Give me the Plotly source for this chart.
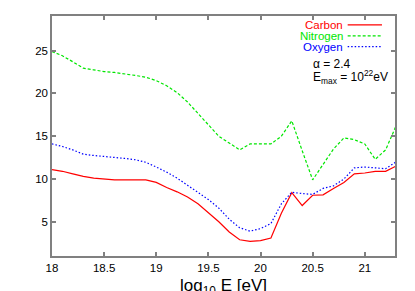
import plotly.graph_objects as go

log_e = [18.0, 18.1, 18.2, 18.3, 18.4, 18.5, 18.6, 18.7, 18.8, 18.9,
         19.0, 19.1, 19.2, 19.3, 19.4, 19.5, 19.6, 19.7, 19.8, 19.9,
         20.0, 20.1, 20.2, 20.3, 20.4, 20.5, 20.6, 20.7, 20.8, 20.9,
         21.0, 21.1, 21.2, 21.3]

carbon = [11.1, 10.9, 10.6, 10.3, 10.1, 10.0, 9.9, 9.9, 9.9, 9.9,
          9.6, 9.0, 8.5, 7.9, 7.1, 6.1, 5.0, 3.8, 2.9, 2.7,
          2.8, 3.1, 6.0, 8.4, 6.9, 8.1, 8.15, 8.9, 9.6, 10.6,
          10.7, 10.9, 10.9, 11.5]

nitrogen = [24.9, 24.4, 23.7, 22.95, 22.75, 22.55, 22.45, 22.3, 22.1, 21.9,
            21.5, 20.9, 20.1, 19.0, 17.7, 16.3, 15.0, 14.2, 13.4, 14.1,
            14.1, 14.1, 15.0, 16.8, 13.3, 9.9, 11.7, 13.5, 14.8, 14.6,
            14.1, 12.3, 13.4, 16.2]

oxygen = [14.1, 13.8, 13.4, 12.9, 12.75, 12.65, 12.55, 12.4, 12.25, 11.95,
          11.4, 10.8, 10.1, 9.3, 8.5, 7.6, 6.6, 5.3, 4.3, 3.9,
          4.2, 4.8, 7.1, 8.45, 8.3, 8.2, 8.9, 9.2, 10.0, 11.3,
          11.4, 11.3, 11.2, 12.0]

series_names = ["Carbon", "Nitrogen", "Oxygen"]
series_colors = ["#ff0000", "#00e600", "#0000ff"]
series_dash = ["solid", "3px,2px", "1.5px,2px"]
x_ticks = [18, 18.5, 19, 19.5, 20, 20.5, 21]
x_tick_labels = ["18", "18.5", "19", "19.5", "20", "20.5", "21"]
y_ticks = [5, 10, 15, 20, 25]

FONT = "Liberation Sans, Arial, sans-serif"

fig = go.Figure()
for name, ys, col, dash in zip(series_names, [carbon, nitrogen, oxygen], series_colors, series_dash):
    fig.add_trace(go.Scatter(x=log_e, y=ys, mode="lines", name=name,
                             line=dict(color=col, width=1.2, dash=dash),
                             showlegend=False))

axis_common = dict(showgrid=False, zeroline=False, showline=True, linecolor="#808080",
                   linewidth=1.5, mirror="ticks", ticks="inside", ticklen=4,
                   tickcolor="#808080", tickwidth=1.5,
                   tickfont=dict(family=FONT, size=11.5, color="#000000"))

fig.update_layout(
    width=415, height=291,
    margin=dict(l=44, r=28, t=6, b=43),
    paper_bgcolor="white", plot_bgcolor="white",
    font=dict(family=FONT, color="#000000"),
    xaxis=dict(range=[18, 21.29], tickvals=x_ticks, ticktext=x_tick_labels, **axis_common),
    yaxis=dict(range=[1, 29.05], tickvals=y_ticks, **axis_common),
)

# Legend (text right-aligned, line sample to the right)
leg_y = [0.963, 0.917, 0.872]
for name, col, dash, yy in zip(series_names, series_colors, series_dash, leg_y):
    fig.add_annotation(xref="paper", yref="paper", x=0.855, y=yy, xanchor="right",
                       yanchor="middle", text=name, showarrow=False,
                       font=dict(family=FONT, size=11.5, color=col))
    fig.add_shape(type="line", xref="paper", yref="paper", x0=0.862, x1=0.962, y0=yy, y1=yy,
                  line=dict(color=col, width=1.2, dash=dash))

fig.add_annotation(xref="paper", yref="paper", x=0.755, y=0.80, xanchor="left", yanchor="middle",
                   text="α = 2.4", showarrow=False, font=dict(family=FONT, size=12))
fig.add_annotation(xref="paper", yref="paper", x=0.755, y=0.745, xanchor="left", yanchor="middle",
                   text="E<sub>max</sub> = 10<sup>22</sup>eV", showarrow=False,
                   font=dict(family=FONT, size=12))

# Axis titles
fig.add_annotation(xref="paper", yref="paper", x=0.5, y=-0.13, xanchor="center", yanchor="middle",
                   text="log<sub>10</sub> E [eV]", showarrow=False, font=dict(family=FONT, size=17))
fig.add_annotation(xref="paper", yref="paper", x=-0.113, y=0.5, xanchor="center", yanchor="middle",
                   text="<A>", textangle=-90, showarrow=False, font=dict(family=FONT, size=16))

fig.write_html("out.html")
